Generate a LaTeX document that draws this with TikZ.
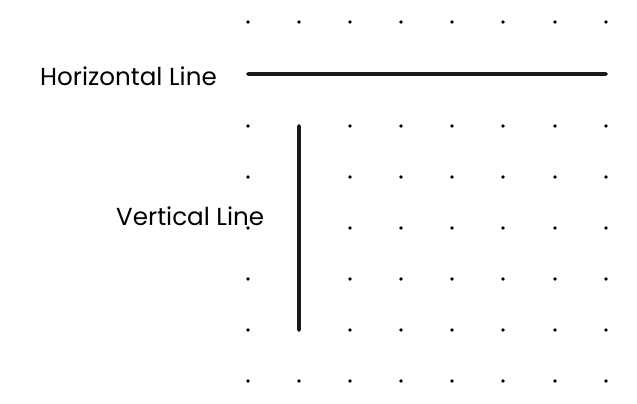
\documentclass[tikz,border=0pt]{standalone}
\usepackage{fontspec}
\setmainfont{Poppins}
\begin{document}
\begin{tikzpicture}[x=1pt,y=-1pt,
  dot/.style={circle,fill=black,inner sep=0pt,minimum size=3.6pt},
  lbl/.style={font=\fontsize{24.6}{28}\selectfont,inner sep=0pt},
  ln/.style={line width=3.4pt,draw=black!90}]
\useasboundingbox (0,0) rectangle (637,404);
\foreach \i/\x in {0/248,1/299,2/350,3/401,4/452,5/503,6/555,7/606}
  \foreach \j/\y in {0/22,1/74,2/126,3/177,4/228,5/279,6/330,7/381}
    \node[dot] (d\i\j) at (\x,\y) {};
\draw[ln] (d01.center) -- (d71.center);
\draw[ln] (d12.center) -- (d16.center);
\node[lbl,anchor=west] (h) at (40,76) {Horizontal Line};
\node[lbl,anchor=west] (v) at (116,216) {Vertical Line};
\end{tikzpicture}
\end{document}
